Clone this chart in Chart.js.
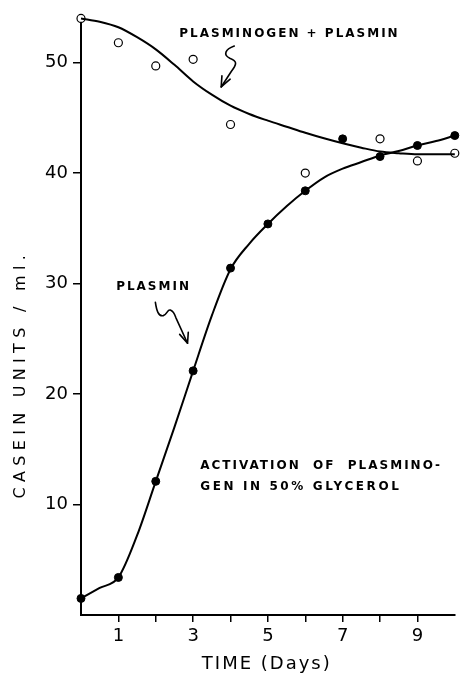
<!DOCTYPE html>
<html>
<head>
<meta charset="utf-8">
<script src="https://cdn.jsdelivr.net/npm/chart.js@4/dist/chart.umd.min.js"></script>
<style>
  html, body { margin: 0; padding: 0; background: #fff; }
  #c { display: block; }
</style>
</head>
<body>
<canvas id="c" width="460" height="674"></canvas>
<script>
// ---- data ----
const days = [0, 1, 2, 3, 4, 5, 6, 7, 8, 9, 10];
// measured points
const plasminPoints      = [1.5, 3.4, 12.1, 22.1, 31.4, 35.4, 38.4, 43.1, 41.5, 42.5, 43.4];
const plasminogenPoints  = [54.0, 51.8, 49.7, 50.3, 44.4, null, 40.0, null, 43.1, 41.1, 41.8];
// hand-drawn smooth curves (read every half day)
const curveDays          = [0, 0.5, 1, 1.5, 2, 2.5, 3, 3.5, 4, 4.5, 5, 5.5, 6, 6.5, 7, 7.5, 8, 8.5, 9, 9.5, 10];
const plasminCurve       = [1.5, 2.45, 3.4, 7.2, 12.1, 17.0, 22.1, 27.1, 31.3, 33.6, 35.4, 37.0, 38.4, 39.6, 40.4, 41.0, 41.6, 42.0, 42.5, 42.9, 43.4];
const plasminogenCurve   = [54.0, 53.7, 53.2, 52.3, 51.2, 49.8, 48.3, 47.1, 46.1, 45.35, 44.75, 44.2, 43.65, 43.15, 42.7, 42.3, 41.95, 41.8, 41.7, 41.7, 41.7];
// axis ticks
const xTicks = [1, 2, 3, 4, 5, 6, 7, 8, 9];
const xTickLabels = ['1', '', '3', '', '5', '', '7', '', '9'];
const yTicks = [10, 20, 30, 40, 50];
const yTickLabels = ['10', '20', '30', '40', '50'];

const toXY = (xs, arr) => xs.map((d, i) => ({ x: d, y: arr[i] })).filter(p => p.y !== null);

// ---- annotation plugin (texts + arrows), positioned in data coordinates ----
const annotations = {
  id: 'annotations',
  afterDraw(chart) {
    const ctx = chart.ctx;
    const xs = chart.scales.x, ys = chart.scales.y;
    const P = (x, y) => [xs.getPixelForValue(x), ys.getPixelForValue(y)];
    const px = (x) => xs.getPixelForValue(x);
    const py = (y) => ys.getPixelForValue(y);
    ctx.save();
    ctx.fillStyle = '#000';
    ctx.strokeStyle = '#000';

    // label texts inside plot
    ctx.font = 'bold 12px "DejaVu Sans"';
    ctx.letterSpacing = '2px';
    ctx.textAlign = 'left';
    ctx.textBaseline = 'middle';
    ctx.fillText('PLASMINOGEN + PLASMIN', px(2.63), py(52.6));
    ctx.fillText('PLASMIN', px(0.94), py(29.7));
    ctx.fillText('ACTIVATION  OF  PLASMINO-', px(3.19), py(13.5));
    ctx.letterSpacing = '2.6px';
    ctx.fillText('GEN IN 50% GLYCEROL', px(3.19), py(11.6));

    // axis titles
    ctx.font = '18px "DejaVu Sans"';
    ctx.letterSpacing = '2px';
    ctx.textAlign = 'center';
    ctx.fillText('TIME (Days)', px(4.97), 664);

    ctx.save();
    ctx.font = '16px "DejaVu Sans"';
    ctx.letterSpacing = '5.3px';
    ctx.translate(21, py(21.8));
    ctx.rotate(-Math.PI / 2);
    ctx.textAlign = 'center';
    ctx.fillText('CASEIN UNITS / ml.', 0, 0);
    ctx.restore();

    // squiggly arrows
    ctx.letterSpacing = '0px';
    ctx.lineWidth = 1.6;
    ctx.lineCap = 'round';
    ctx.lineJoin = 'round';

    function path(cmds) {
      ctx.beginPath();
      cmds.forEach(c => {
        const [op, ...v] = c;
        const pts = [];
        for (let i = 0; i < v.length; i += 2) pts.push(...P(v[i], v[i + 1]));
        ctx[op](...pts);
      });
      ctx.stroke();
    }
    // arrow to plasminogen + plasmin curve
    path([
      ['moveTo', 4.1, 51.5],
      ['bezierCurveTo', 3.85, 51.2, 3.8, 50.7, 3.98, 50.4],
      ['bezierCurveTo', 4.18, 50.15, 4.18, 49.9, 4.02, 49.2],
      ['lineTo', 3.75, 47.8]
    ]);
    path([
      ['moveTo', 3.77, 48.8],
      ['lineTo', 3.75, 47.8],
      ['lineTo', 3.99, 48.5]
    ]);
    // arrow to plasmin curve
    path([
      ['moveTo', 1.99, 28.3],
      ['bezierCurveTo', 2.02, 27.6, 2.07, 27.0, 2.2, 27.1],
      ['bezierCurveTo', 2.31, 27.2, 2.31, 27.7, 2.39, 27.6],
      ['bezierCurveTo', 2.47, 27.5, 2.5, 27.3, 2.54, 26.9],
      ['lineTo', 2.85, 24.6]
    ]);
    path([
      ['moveTo', 2.64, 25.4],
      ['lineTo', 2.85, 24.6],
      ['lineTo', 2.87, 25.6]
    ]);
    ctx.restore();
  }
};

new Chart(document.getElementById('c'), {
  type: 'line',
  data: {
    datasets: [
      {
        label: 'Plasminogen + plasmin (curve)',
        data: toXY(curveDays, plasminogenCurve),
        borderColor: '#000',
        borderWidth: 2,
        pointRadius: 0,
        cubicInterpolationMode: 'monotone',
        fill: false,
        clip: false
      },
      {
        label: 'Plasmin (curve)',
        data: toXY(curveDays, plasminCurve),
        borderColor: '#000',
        borderWidth: 2,
        pointRadius: 0,
        cubicInterpolationMode: 'monotone',
        fill: false,
        clip: false
      },
      {
        label: 'Plasminogen + plasmin',
        data: toXY(days, plasminogenPoints),
        showLine: false,
        pointRadius: 4,
        pointBackgroundColor: '#fff',
        pointBorderColor: '#000',
        pointBorderWidth: 1.2,
        clip: false
      },
      {
        label: 'Plasmin',
        data: toXY(days, plasminPoints),
        showLine: false,
        pointRadius: 4,
        pointBackgroundColor: '#000',
        pointBorderColor: '#000',
        pointBorderWidth: 1,
        clip: false
      }
    ]
  },
  options: {
    responsive: false,
    animation: false,
    devicePixelRatio: 1,
    layout: { padding: { top: 14, right: 0, left: 0, bottom: 0 } },
    plugins: { legend: { display: false }, tooltip: { enabled: false } },
    scales: {
      x: {
        type: 'linear',
        min: 0,
        max: 10,
        afterFit(s) { s.height = 59; },
        afterBuildTicks(s) { s.ticks = xTicks.map(v => ({ value: v })); },
        border: { display: true, color: '#000', width: 2 },
        grid: { drawOnChartArea: false, drawTicks: true, tickLength: 7, color: '#000', lineWidth: 1.5 },
        ticks: {
          autoSkip: false,
          maxRotation: 0,
          padding: 4,
          color: '#000',
          font: { family: '"DejaVu Sans"', size: 18 },
          callback: (v) => { const i = xTicks.indexOf(v); return i >= 0 ? xTickLabels[i] : ''; }
        }
      },
      y: {
        type: 'linear',
        min: 0,
        max: 54.24,
        afterFit(s) { s.width = 81; },
        afterBuildTicks(s) { s.ticks = yTicks.map(v => ({ value: v })); },
        border: { display: true, color: '#000', width: 2 },
        grid: { drawOnChartArea: false, drawTicks: true, tickLength: 8, color: '#000', lineWidth: 1.5 },
        ticks: {
          padding: 5,
          color: '#000',
          font: { family: '"DejaVu Sans"', size: 18 },
          callback: (v) => { const i = yTicks.indexOf(v); return i >= 0 ? yTickLabels[i] : ''; }
        }
      }
    }
  },
  plugins: [annotations]
});
</script>
</body>
</html>
